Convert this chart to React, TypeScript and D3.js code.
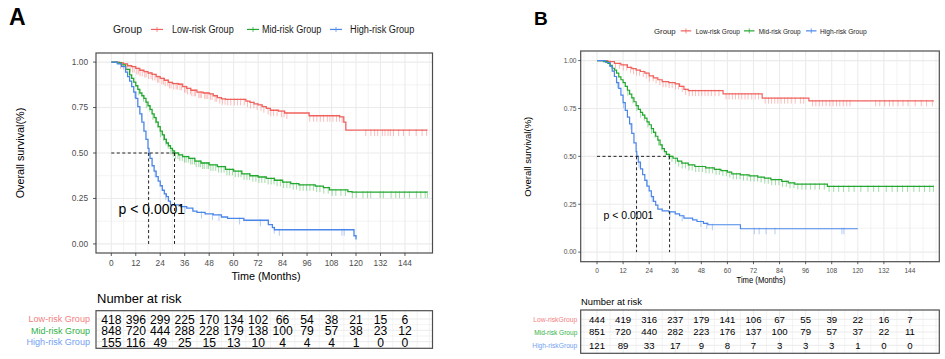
import React from 'react';
import * as d3 from 'd3';

// ---------- data ----------
const timeTicks = [0, 12, 24, 36, 48, 60, 72, 84, 96, 108, 120, 132, 144];
const minorTimes = [-6, 6, 18, 30, 42, 54, 66, 78, 90, 102, 114, 126, 138, 150, 156];
const survTicks = [0, 0.25, 0.5, 0.75, 1];
const survTickLabels = ['0.00', '0.25', '0.50', '0.75', '1.00'];
const survMinor = [0.125, 0.375, 0.625, 0.875];
const groupNames = ['Low-risk Group', 'Mid-risk Group', 'High-risk Group'];
const tableNamesA = ['Low-risk Group', 'Mid-risk Group', 'High-risk Group'];
const tableNamesB = ['Low-riskGroup', 'Mid-risk Group', 'High-riskGroup'];

// Panel A survival step knots [time, survival]
const lowA: [number, number][] = [[0,1],[4,0.995],[6,0.99],[8,0.98],[10,0.975],[12,0.965],[14,0.955],[16,0.948],[18,0.94],[20,0.932],[22,0.92],[24,0.91],[26,0.9],[28,0.888],[30,0.882],[33,0.878],[35,0.865],[37,0.855],[39,0.845],[42,0.835],[45,0.83],[48,0.825],[50,0.815],[52,0.805],[54,0.798],[56,0.795],[66,0.785],[68,0.778],[70,0.77],[72,0.765],[74,0.755],[76,0.745],[78,0.735],[82,0.73],[85,0.72],[97,0.705],[112,0.699],[114,0.67],[115,0.626]];
const midA: [number, number][] = [[0,1],[3,0.995],[5,0.985],[7,0.96],[9,0.93],[10,0.91],[11,0.89],[12,0.87],[13,0.85],[14,0.83],[15,0.815],[16,0.8],[17,0.78],[18,0.76],[19,0.74],[20,0.715],[21,0.695],[22,0.67],[23,0.645],[24,0.62],[25,0.6],[26,0.575],[27,0.555],[28,0.54],[29,0.525],[30,0.512],[31,0.5],[33,0.49],[35,0.48],[38,0.47],[41,0.455],[44,0.445],[48,0.435],[52,0.425],[56,0.41],[60,0.4],[64,0.385],[68,0.375],[72,0.368],[76,0.36],[80,0.35],[84,0.34],[88,0.332],[92,0.325],[100,0.318],[104,0.31],[107,0.297],[116,0.288],[118,0.285]];
const highA: [number, number][] = [[0,1],[3,0.99],[5,0.975],[7,0.945],[8,0.92],[9,0.895],[10,0.865],[11,0.835],[12,0.8],[13,0.755],[14,0.715],[15,0.67],[16,0.62],[17,0.575],[18,0.525],[18.5,0.495],[19,0.47],[20,0.43],[21,0.4],[22,0.37],[23,0.345],[24,0.32],[25,0.295],[26,0.275],[27,0.26],[28,0.235],[29,0.215],[34,0.205],[37,0.197],[40,0.18],[42,0.173],[46,0.165],[50,0.16],[54,0.148],[57,0.14],[65,0.13],[77,0.106],[79,0.09],[80,0.078],[119,0.045],[120,0.024]];
const endA = [155, 155, 120];

const censorLowA = [4.5,6,7.2,8.1,9.3,10.4,11.2,12.5,13.3,14.1,15.2,16.4,17.1,18.3,19.5,20.2,21.4,22.6,23.3,24.8,25.6,26.4,27.7,28.5,29.3,30.6,31.8,32.5,33.7,34.4,35.9,36.6,37.4,38.8,39.5,40.7,41.3,42.9,43.6,44.2,45.8,46.5,47.3,48.6,49.4,50.9,51.7,53.2,54.5,55.8,57.1,58.6,60.3,61.9,63.4,65.2,66.8,68.3,69.9,71.5,73.4,74.8,76.9,78.2,79.6,81.3,83.4,84.7,86.1,97.3,99.2,100.8,102.5,104.1,105.9,107.2,108.7,110.4,111.9,113.2,124.8,127.3,129.1,130.6,132.9,134.2,135.7,136.8,138.4,140.9,143.3,146.1,149.5,152.4,154.6];
const censorMidA = [13.5,15.8,17.2,18.9,20.4,21.7,22.9,24.1,25.6,26.8,27.9,29.2,30.4,31.5,32.7,33.6,34.8,35.9,36.7,37.8,38.9,39.7,40.8,41.6,42.9,43.7,44.8,45.6,46.9,47.7,48.8,49.9,51.2,52.6,53.9,55.3,56.7,57.9,59.4,60.8,62.3,63.6,65.1,66.5,67.8,69.4,70.9,72.4,73.8,75.3,76.9,78.4,79.8,81.3,82.9,84.5,86.1,87.6,89.2,90.8,92.5,94.1,95.8,97.4,99.1,100.7,102.3,104.2,106.4,108.3,110.1,112.6,114.8,118.2,120.1,123.4,125.6,127.2,131.8,133.4,137.2,139.5,141.3,143.7,146.2,149.6,151.8,153.9,155];
const censorHighA = [11.5,14.8,21.5,26.7,36.1,44.2,49.6,52.8,62.9,73.1,79.9,82.4,113.1,114.2];

const riskLowA = [418, 396, 299, 225, 170, 134, 102, 66, 54, 38, 21, 15, 6];
const riskMidA = [848, 720, 444, 288, 228, 179, 138, 100, 79, 57, 38, 23, 12];
const riskHighA = [155, 116, 49, 25, 15, 13, 10, 4, 4, 4, 1, 0, 0];
const mediansA = [18.3, 31];

// Panel B
const lowB: [number, number][] = [[0,1],[5,0.995],[8,0.985],[11,0.978],[14,0.965],[16,0.958],[18,0.95],[20,0.943],[22,0.935],[24,0.92],[26,0.91],[28,0.9],[30,0.89],[33,0.885],[36,0.878],[38,0.865],[40,0.85],[42,0.843],[58,0.826],[76,0.804],[97.5,0.79]];
const midB: [number, number][] = [[0,1],[3,0.995],[5,0.985],[6,0.975],[7,0.96],[8,0.95],[9,0.935],[10,0.915],[11,0.9],[12,0.885],[13,0.865],[14,0.845],[15,0.825],[16,0.805],[17,0.785],[18,0.765],[19,0.745],[20,0.73],[21,0.715],[22,0.7],[23,0.68],[24,0.665],[25,0.645],[26,0.625],[27,0.605],[28,0.585],[29,0.56],[30,0.54],[31,0.525],[32,0.51],[33.4,0.5],[35,0.49],[37,0.475],[39,0.465],[42,0.455],[45,0.447],[50,0.44],[54,0.432],[57,0.425],[60,0.418],[62,0.409],[66,0.403],[70,0.398],[74,0.392],[77,0.386],[80,0.378],[85,0.369],[88,0.362],[91,0.355],[106,0.343]];
const highB: [number, number][] = [[0,1],[4,0.99],[6,0.97],[7,0.945],[8,0.917],[9,0.885],[10,0.855],[11,0.82],[12,0.78],[13,0.74],[14,0.705],[15,0.67],[16,0.62],[17,0.57],[18,0.525],[18.3,0.5],[19,0.47],[20,0.435],[21,0.405],[22,0.375],[23,0.345],[24,0.32],[25,0.29],[26,0.265],[27,0.245],[28,0.225],[30,0.215],[33,0.21],[36,0.2],[38,0.19],[40,0.177],[44,0.168],[46,0.16],[49,0.15],[51,0.143],[66,0.122]];
const endB = [155, 155, 120];

const censorLowB = [6.2,8.5,10.3,12.1,13.7,15.4,16.8,18.2,19.6,21.3,22.7,24.1,25.8,27.2,28.9,30.4,31.7,33.2,34.6,36.1,37.5,39.2,40.8,42.4,43.9,45.3,46.8,48.2,49.7,51.1,52.6,54.3,56.1,59.4,60.8,62.3,63.7,65.2,66.6,68.1,69.5,71.2,72.8,74.3,77.4,78.9,80.3,81.8,83.2,84.7,86.3,87.8,89.4,91.2,93.6,95.1,99.2,100.7,102.3,103.8,105.4,107.1,108.6,110.2,111.7,113.3,114.9,116.4,128.2,130.1,132.4,134.6,136.2,138.5,140.8,143.1,146.4,149.2,151.6,154.3];
const censorMidB = [14.2,16.5,18.3,20.1,21.8,23.4,25.1,26.7,28.3,29.8,31.4,32.9,34.5,36.1,37.6,39.2,40.7,42.3,43.8,45.4,46.9,48.5,50.1,51.6,53.2,54.8,56.3,57.9,59.5,61.1,62.7,64.2,65.8,67.4,69.1,70.7,72.3,73.9,75.5,77.2,78.8,80.4,82.1,83.7,85.4,87.1,88.8,90.6,92.4,94.3,96.1,98.2,100.3,102.4,104.6,106.8,108.9,111.2,113.4,115.9,118.3,121.4,124.7,127.3,129.6,133.1,135.8,138.2,140.6,142.9,145.8,148.3,150.7,153.1,154.8];
const censorHighB = [9.4,12.2,15.6,19.3,22.8,25.4,33.6,39.2,47.8,50.5,53.1,72.4,74.6,77.8,81.9,112.7,113.6];

const riskLowB = [444, 419, 316, 237, 179, 141, 106, 67, 55, 39, 22, 16, 7];
const riskMidB = [851, 720, 440, 282, 223, 176, 137, 100, 79, 57, 37, 22, 11];
const riskHighB = [121, 89, 33, 17, 9, 8, 7, 3, 3, 3, 1, 0, 0];
const mediansB = [18.2, 33.4];

const lineColors = ['#F0625E', '#22A82E', '#4A86EA'];
const tableColors = ['#F3817F', '#30B045', '#74A0F3'];

// ---------- layout ----------
type Cfg = {
  id: string; label: string; labelX: number; labelY: number; labelSize: number;
  x0: number; x1: number; y0: number; y1: number;
  tickFont: number; yLabRight: number; xLabBase: number; tickLen: number;
  xTitleX: number; xTitleY: number; xTitleSize: number; xTitleLen?: number;
  yTitleX: number; yTitleY: number; yTitleSize: number; yTitleLen?: number;
  legTitleX: number; legBase: number; legTitleSize: number; legTitleLen: number;
  keyX: number[]; keyW: number; legTextX: number[]; legTextLen: number[]; legTextSize: number;
  pX: number; pBase: number; pSize: number;
  tTitleX: number; tTitleBase: number; tTitleSize: number;
  boxY0: number; boxY1: number; rowY: number[]; numSize: number; numScaleX: number; rowLabRight: number;
  rowLabSize: number; rowLabLen: number[]; lineW: number; censorLen: number;
};

const cfgA: Cfg = {
  id: 'A', label: 'A', labelX: 9, labelY: 25, labelSize: 23,
  x0: 96, x1: 432.5, y0: 53, y1: 253,
  tickFont: 8.3, yLabRight: 88, xLabBase: 266, tickLen: 3,
  xTitleX: 266, xTitleY: 280, xTitleSize: 10.8,
  yTitleX: 23.5, yTitleY: 153, yTitleSize: 10.8,
  legTitleX: 113, legBase: 33, legTitleSize: 10.8, legTitleLen: 29,
  keyX: [151, 247, 330], keyW: 12, legTextX: [172, 262, 350], legTextLen: [61.7, 59.3, 64.3], legTextSize: 10,
  pX: 118.5, pBase: 214, pSize: 14,
  tTitleX: 97, tTitleBase: 303, tTitleSize: 13,
  boxY0: 310.7, boxY1: 348.3, rowY: [319, 330.3, 341.7], numSize: 13.5, numScaleX: 0.9, rowLabRight: 90,
  rowLabSize: 9.2, rowLabLen: [61.5, 59, 63.5], lineW: 1.3, censorLen: 6,
};

const cfgB: Cfg = {
  id: 'B', label: 'B', labelX: 534, labelY: 25, labelSize: 19,
  x0: 580.7, x1: 939.3, y0: 51, y1: 261.7,
  tickFont: 6.6, yLabRight: 576.5, xLabBase: 272.7, tickLen: 2.5,
  xTitleX: 761, xTitleY: 283, xTitleSize: 8.6, xTitleLen: 49,
  yTitleX: 530.5, yTitleY: 156.7, yTitleSize: 9, yTitleLen: 80,
  legTitleX: 654, legBase: 33.5, legTitleSize: 8, legTitleLen: 21.7,
  keyX: [680.7, 744, 806], keyW: 10.5, legTextX: [695.7, 758.7, 820], legTextLen: [44.3, 42, 46.7], legTextSize: 7.6,
  pX: 603.5, pBase: 219.3, pSize: 10.5,
  tTitleX: 581, tTitleBase: 305, tTitleSize: 9.4,
  boxY0: 310, boxY1: 353.3, rowY: [319.3, 332, 345.3], numSize: 9.6, numScaleX: 1, rowLabRight: 577.3,
  rowLabSize: 7.4, rowLabLen: [44, 43, 45], lineW: 1.2, censorLen: 5.5,
};

const FONT = 'Liberation Sans, Arial, sans-serif';

function survAt(knots: [number, number][], t: number) {
  let s = 1;
  for (const [tk, sk] of knots) if (tk <= t) s = sk;
  return s;
}

type PanelData = {
  curves: [number, number][][]; ends: number[]; censors: number[][];
  risk: number[][]; medians: number[]; rowNames: string[];
};

function Panel({ c, d }: { c: Cfg; d: PanelData }) {
  const x = d3.scaleLinear().domain([-7.5, 157.5]).range([c.x0, c.x1]);
  const y = d3.scaleLinear().domain([-0.05, 1.05]).range([c.y1, c.y0]);
  const line = d3.line<[number, number]>().x(p => x(p[0])).y(p => y(p[1])).curve(d3.curveStepAfter);
  const grid = '#EBEBEB';
  const maxMed = Math.max(...d.medians);
  const rowMids = [(c.rowY[0] + c.rowY[1]) / 2, (c.rowY[1] + c.rowY[2]) / 2];
  return (
    <g fontFamily={FONT}>
      <text x={c.labelX} y={c.labelY} fontSize={c.labelSize} fontWeight="bold" fill="#000">{c.label}</text>
      {/* legend */}
      <text x={c.legTitleX} y={c.legBase} fontSize={c.legTitleSize} fill="#1a1a1a" textLength={c.legTitleLen} lengthAdjust="spacingAndGlyphs">Group</text>
      {groupNames.map((g, i) => {
        const ky = c.legBase - c.legTitleSize * 0.33;
        return (
          <g key={g}>
            <line x1={c.keyX[i]} x2={c.keyX[i] + c.keyW} y1={ky} y2={ky} stroke={lineColors[i]} strokeWidth={1.2} />
            <line x1={c.keyX[i] + c.keyW / 2} x2={c.keyX[i] + c.keyW / 2} y1={ky - 2.5} y2={ky + 2.5} stroke={lineColors[i]} strokeWidth={1} opacity={0.7} />
            <text x={c.legTextX[i]} y={c.legBase} fontSize={c.legTextSize} fill="#1a1a1a" textLength={c.legTextLen[i]} lengthAdjust="spacingAndGlyphs">{g}</text>
          </g>
        );
      })}
      {/* plot panel */}
      <clipPath id={`clip${c.id}`}><rect x={c.x0} y={c.y0} width={c.x1 - c.x0} height={c.y1 - c.y0} /></clipPath>
      <rect x={c.x0} y={c.y0} width={c.x1 - c.x0} height={c.y1 - c.y0} fill="#fff" />
      <g clipPath={`url(#clip${c.id})`}>
        {minorTimes.map(t => <line key={'mx' + t} x1={x(t)} x2={x(t)} y1={c.y0} y2={c.y1} stroke={grid} strokeWidth={0.6} />)}
        {survMinor.map(s => <line key={'my' + s} x1={c.x0} x2={c.x1} y1={y(s)} y2={y(s)} stroke={grid} strokeWidth={0.6} />)}
        {timeTicks.map(t => <line key={'gx' + t} x1={x(t)} x2={x(t)} y1={c.y0} y2={c.y1} stroke={grid} strokeWidth={1.1} />)}
        {survTicks.map(s => <line key={'gy' + s} x1={c.x0} x2={c.x1} y1={y(s)} y2={y(s)} stroke={grid} strokeWidth={1.1} />)}
        {d.curves.map((k, i) => (
          <g key={'cz' + i}>
            {d.censors[i].map((t, j) => {
              const yy = y(survAt(k, t));
              return <line key={j} x1={x(t)} x2={x(t)} y1={yy - 1} y2={yy + c.censorLen} stroke={lineColors[i]} strokeWidth={0.9} opacity={0.45} />;
            })}
          </g>
        ))}
        {d.curves.map((k, i) => {
          const pts: [number, number][] = [...k, [d.ends[i], k[k.length - 1][1]]];
          return <path key={'c' + i} d={line(pts) || ''} fill="none" stroke={lineColors[i]} strokeWidth={c.lineW} />;
        })}
        {/* median lines */}
        <line x1={x(0)} x2={x(maxMed)} y1={y(0.5)} y2={y(0.5)} stroke="#222" strokeWidth={1} strokeDasharray="3,2.5" />
        {d.medians.map(m => <line key={'md' + m} x1={x(m)} x2={x(m)} y1={y(0.5)} y2={y(0)} stroke="#222" strokeWidth={1} strokeDasharray="3,2.5" />)}
        <text x={c.pX} y={c.pBase} fontSize={c.pSize} fill="#000">p &lt; 0.0001</text>
      </g>
      <rect x={c.x0} y={c.y0} width={c.x1 - c.x0} height={c.y1 - c.y0} fill="none" stroke="#4D4D4D" strokeWidth={1.2} />
      {/* axes */}
      {survTicks.map((s, i) => (
        <g key={'yt' + s}>
          <line x1={c.x0 - c.tickLen} x2={c.x0} y1={y(s)} y2={y(s)} stroke="#333" strokeWidth={0.8} />
          <text x={c.yLabRight} y={y(s) + c.tickFont * 0.35} fontSize={c.tickFont} fill="#4D4D4D" textAnchor="end">{survTickLabels[i]}</text>
        </g>
      ))}
      {timeTicks.map(t => (
        <g key={'xt' + t}>
          <line x1={x(t)} x2={x(t)} y1={c.y1} y2={c.y1 + c.tickLen} stroke="#333" strokeWidth={0.8} />
          <text x={x(t)} y={c.xLabBase} fontSize={c.tickFont} fill="#4D4D4D" textAnchor="middle">{t}</text>
        </g>
      ))}
      <text x={c.xTitleX} y={c.xTitleY} fontSize={c.xTitleSize} fill="#000" textAnchor="middle"
        textLength={c.xTitleLen} lengthAdjust={c.xTitleLen ? 'spacingAndGlyphs' : undefined}>Time (Months)</text>
      <text transform={`translate(${c.yTitleX},${c.yTitleY}) rotate(-90)`} fontSize={c.yTitleSize} fill="#000" textAnchor="middle"
        textLength={c.yTitleLen} lengthAdjust={c.yTitleLen ? 'spacingAndGlyphs' : undefined}>Overall survival(%)</text>
      {/* risk table */}
      <text x={c.tTitleX} y={c.tTitleBase} fontSize={c.tTitleSize} fill="#000">Number at risk</text>
      <rect x={c.x0} y={c.boxY0} width={c.x1 - c.x0} height={c.boxY1 - c.boxY0} fill="#fff" />
      {minorTimes.map(t => <line key={'tmx' + t} x1={x(t)} x2={x(t)} y1={c.boxY0} y2={c.boxY1} stroke={grid} strokeWidth={0.6} />)}
      {timeTicks.map(t => <line key={'tgx' + t} x1={x(t)} x2={x(t)} y1={c.boxY0} y2={c.boxY1} stroke={grid} strokeWidth={1} />)}
      {c.rowY.map(r => <line key={'tr' + r} x1={c.x0} x2={c.x1} y1={r} y2={r} stroke={grid} strokeWidth={1} />)}
      {rowMids.map(r => <line key={'tm' + r} x1={c.x0} x2={c.x1} y1={r} y2={r} stroke={grid} strokeWidth={0.6} />)}
      <rect x={c.x0} y={c.boxY0} width={c.x1 - c.x0} height={c.boxY1 - c.boxY0} fill="none" stroke="#4D4D4D" strokeWidth={1.2} />
      {d.risk.map((row, i) => (
        <g key={'rr' + i}>
          <text x={c.rowLabRight} y={c.rowY[i] + c.rowLabSize * 0.36} fontSize={c.rowLabSize} fill={tableColors[i]} textAnchor="end"
            textLength={c.rowLabLen[i]} lengthAdjust="spacingAndGlyphs">{d.rowNames[i]}</text>
          {row.map((v, j) => (
            <text key={j} transform={`translate(${x(timeTicks[j])},${c.rowY[i] + c.numSize * 0.36}) scale(${c.numScaleX},1)`}
              fontSize={c.numSize} fill="#000" textAnchor="middle">{v}</text>
          ))}
        </g>
      ))}
    </g>
  );
}

export default function App() {
  const dA: PanelData = {
    curves: [lowA, midA, highA], ends: endA, censors: [censorLowA, censorMidA, censorHighA],
    risk: [riskLowA, riskMidA, riskHighA], medians: mediansA, rowNames: tableNamesA,
  };
  const dB: PanelData = {
    curves: [lowB, midB, highB], ends: endB, censors: [censorLowB, censorMidB, censorHighB],
    risk: [riskLowB, riskMidB, riskHighB], medians: mediansB, rowNames: tableNamesB,
  };
  return (
    <svg width={945} height={359} style={{ position: 'absolute', left: 0, top: 0, background: '#fff' }}>
      <rect width={945} height={359} fill="#fff" />
      <Panel c={cfgA} d={dA} />
      <Panel c={cfgB} d={dB} />
    </svg>
  );
}
